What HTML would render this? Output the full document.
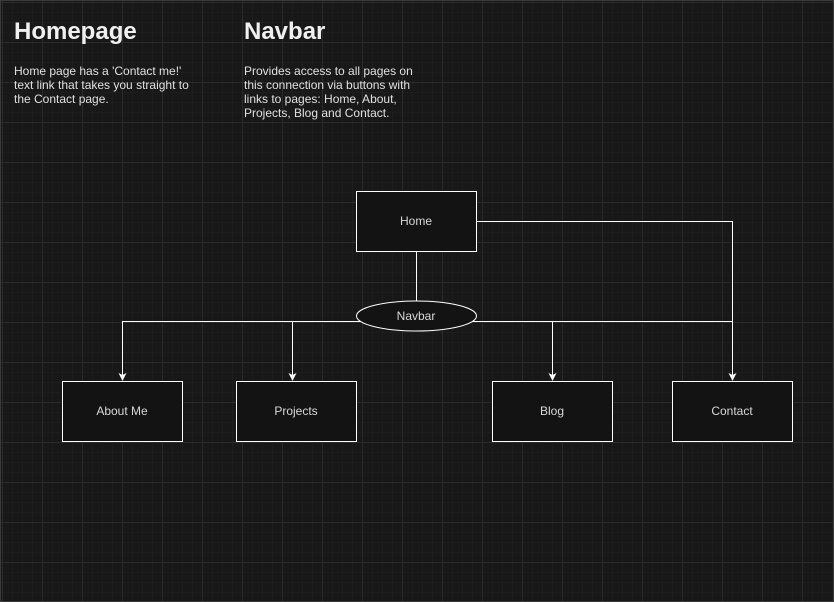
<!DOCTYPE html>
<html><head><style>
html,body{margin:0;padding:0;background:#181818;}
body{width:834px;height:602px;overflow:hidden;position:relative;font-family:"Liberation Sans",Arial,sans-serif;}
.grid{position:absolute;left:0;top:0;width:834px;height:602px;box-sizing:border-box;border:1px solid #3a3a3a;
background-color:#181818;
background-image:
linear-gradient(to right,#2b2b2b 1px,transparent 1px),
linear-gradient(to bottom,#2b2b2b 1px,transparent 1px),
linear-gradient(to right,#1d1d1d 1px,transparent 1px),
linear-gradient(to bottom,#1d1d1d 1px,transparent 1px);
background-size:40px 40px,40px 40px,10px 10px,10px 10px;
background-position:1px 1px,1px 1px,1px 1px,1px 1px;}
h1{position:absolute;margin:0;font-size:24px;font-weight:bold;color:#f0f0f0;}
p{position:absolute;margin:0;font-size:12px;line-height:14px;color:#e0e0e0;}
</style></head><body>
<div class="grid"></div>
<h1 style="left:14px;top:18px">Homepage</h1>
<p style="left:14px;top:64px;width:180px">Home page has a 'Contact me!' text link that takes you straight to the Contact page.</p>
<h1 style="left:244px;top:18px">Navbar</h1>
<p style="left:244px;top:64px;width:175px">Provides access to all pages on this connection via buttons with links to pages: Home, About, Projects, Blog and Contact.</p>
<svg width="834" height="602" style="position:absolute;left:0;top:0" font-family="Liberation Sans, Arial, sans-serif" font-size="12">
<defs><marker id="a" markerWidth="8" markerHeight="8" refX="7" refY="4" orient="auto" markerUnits="userSpaceOnUse"><path d="M0,0 L8,4 L0,8 L2,4 z" fill="#fff"/></marker></defs>
<g stroke="#fff" stroke-width="1" fill="none">
<path d="M416.5 251 V301"/>
<path d="M122.5 321.5 H732.5"/>
<path d="M122.5 321 V380" marker-end="url(#a)"/>
<path d="M292.5 321 V380" marker-end="url(#a)"/>
<path d="M552.5 321 V380" marker-end="url(#a)"/>
<path d="M476 221.5 H732.5 V380" marker-end="url(#a)"/>
</g>
<g stroke="#fff" fill="#131313">
<rect x="356.5" y="191.5" width="120" height="60"/>
<ellipse cx="416.5" cy="316" rx="60" ry="15"/>
<rect x="62.5" y="381.5" width="120" height="60"/>
<rect x="236.5" y="381.5" width="120" height="60"/>
<rect x="492.5" y="381.5" width="120" height="60"/>
<rect x="672.5" y="381.5" width="120" height="60"/>
</g>
<g fill="#d8d8d8" text-anchor="middle">
<text x="416" y="225">Home</text>
<text x="416" y="320">Navbar</text>
<text x="122" y="415">About Me</text>
<text x="296" y="415">Projects</text>
<text x="552" y="415">Blog</text>
<text x="732" y="415">Contact</text>
</g>
</svg>
</body></html>
